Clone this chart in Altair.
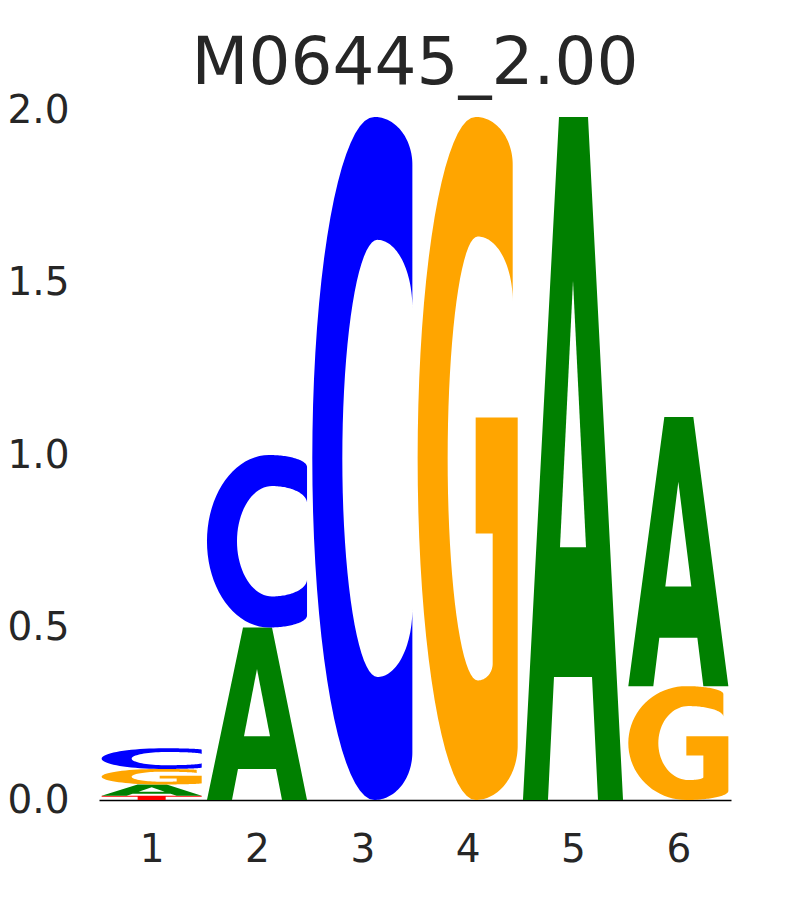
import math
import altair as alt
import pandas as pd

title_text = "M06445_2.00"
positions = [1, 2, 3, 4, 5, 6]
stack_pos = [1, 1, 1, 1, 2, 2, 3, 4, 5, 6, 6]
stack_letter = ["T", "A", "G", "C", "A", "C", "C", "G", "A", "G", "A"]
stack_height = [0.012, 0.033, 0.045, 0.06, 0.50, 0.50, 1.98, 1.98, 1.98, 0.33, 0.78]
y_ticks = [0.0, 0.5, 1.0, 1.5, 2.0]
letter_domain = ["A", "C", "G", "T"]
letter_range = ["#008000", "#0000ff", "#ffa500", "#ff0000"]
LETTER_WIDTH = 0.95


def arc(cx, cy, rx, ry, a0, a1, n=40):
    out = []
    for k in range(n + 1):
        a = math.radians(a0 + (a1 - a0) * k / n)
        out.append((cx + rx * math.cos(a), cy + ry * math.sin(a)))
    return out


def glyph_C():
    pts = [(1.0, 0.72), (1.0, 0.93)]
    pts += arc(0.62, 0.93, 0.38, 0.07, 0, 90)
    pts += arc(0.62, 0.5, 0.62, 0.5, 90, 270)
    pts += arc(0.62, 0.07, 0.38, 0.07, 270, 360)
    pts += [(1.0, 0.28)]
    pts += arc(0.65, 0.28, 0.35, 0.10, 0, -90)
    pts += arc(0.65, 0.5, 0.35, 0.32, 270, 90)
    pts += arc(0.65, 0.72, 0.35, 0.10, 90, 0)
    return [pts]


def glyph_G():
    pts = [(0.95, 0.73), (0.95, 0.93)]
    pts += arc(0.58, 0.93, 0.37, 0.07, 0, 90)
    pts += arc(0.58, 0.5, 0.58, 0.5, 90, 270)
    pts += arc(0.58, 0.08, 0.42, 0.08, 270, 360)
    pts += [(1.0, 0.56), (0.58, 0.56), (0.58, 0.39), (0.75, 0.39), (0.75, 0.20)]
    pts += arc(0.60, 0.20, 0.15, 0.025, 0, -90)
    pts += arc(0.60, 0.5, 0.30, 0.325, 270, 90)
    pts += arc(0.60, 0.73, 0.35, 0.095, 90, 0)
    return [pts]


def glyph_A():
    return [[(0.0, 0.0), (0.36, 1.0), (0.65, 1.0), (1.0, 0.0), (0.75, 0.0),
             (0.69, 0.18), (0.31, 0.18), (0.25, 0.0)]]


def glyph_T():
    return [[(0.0, 1.0), (1.0, 1.0), (1.0, 0.8), (0.64, 0.8), (0.64, 0.0),
             (0.36, 0.0), (0.36, 0.8), (0.0, 0.8)]]


holes = {"A": [[(0.37, 0.37), (0.5, 0.76), (0.63, 0.37)]]}
glyphs = {"A": glyph_A, "C": glyph_C, "G": glyph_G, "T": glyph_T}

rows, hole_rows = [], []
bottoms = {}
for k, (p, let, h) in enumerate(zip(stack_pos, stack_letter, stack_height)):
    b = bottoms.get(p, 0.0)
    bottoms[p] = b + h
    x0 = p - LETTER_WIDTH / 2
    for ci, contour in enumerate(glyphs[let]()):
        for i, (gx, gy) in enumerate(contour):
            rows.append({"inst": f"{k}_{ci}", "letter": let, "i": i,
                         "x": x0 + gx * LETTER_WIDTH, "y": b + gy * h})
    for ci, contour in enumerate(holes.get(let, [])):
        for i, (gx, gy) in enumerate(contour):
            hole_rows.append({"inst": f"{k}_h{ci}", "i": i,
                              "x": x0 + gx * LETTER_WIDTH, "y": b + gy * h})

df = pd.DataFrame(rows)
dh = pd.DataFrame(hole_rows)

x_enc = alt.X("x:Q", scale=alt.Scale(domain=[0.5, 6.5], nice=False, zero=False),
              axis=alt.Axis(values=positions, format="d", title=None, grid=False,
                            ticks=False, domain=True, domainColor="black",
                            domainWidth=1.5, labelFontSize=39, labelColor="#262626",
                            labelPadding=30, labelFont="DejaVu Sans"))
y_enc = alt.Y("y:Q", scale=alt.Scale(domain=[0, 2], nice=False),
              axis=alt.Axis(values=y_ticks, format=".1f", title=None, grid=False,
                            ticks=False, domain=False, labelFontSize=39,
                            labelColor="#262626", labelPadding=30,
                            labelFont="DejaVu Sans"))

letters = alt.Chart(df).mark_line(filled=True, strokeWidth=0).encode(
    x=x_enc, y=y_enc,
    color=alt.Color("letter:N", scale=alt.Scale(domain=letter_domain, range=letter_range), legend=None),
    detail="inst:N",
    order="i:Q",
)
hole_layer = alt.Chart(dh).mark_line(filled=True, color="white", strokeWidth=0).encode(
    x="x:Q", y="y:Q", detail="inst:N", order="i:Q",
)

chart = alt.layer(letters, hole_layer).properties(
    width=632, height=690,
    title=alt.TitleParams(title_text, fontSize=66, font="DejaVu Sans", fontWeight="normal",
                          color="#262626", offset=-7, anchor="middle"),
    padding={"left": 91, "top": 102, "right": 71, "bottom": 92},
    autosize="none",
).configure(font="DejaVu Sans").configure_view(stroke=None, strokeWidth=0)

chart.save("out.html", embed_options={"renderer": "svg", "actions": False})
